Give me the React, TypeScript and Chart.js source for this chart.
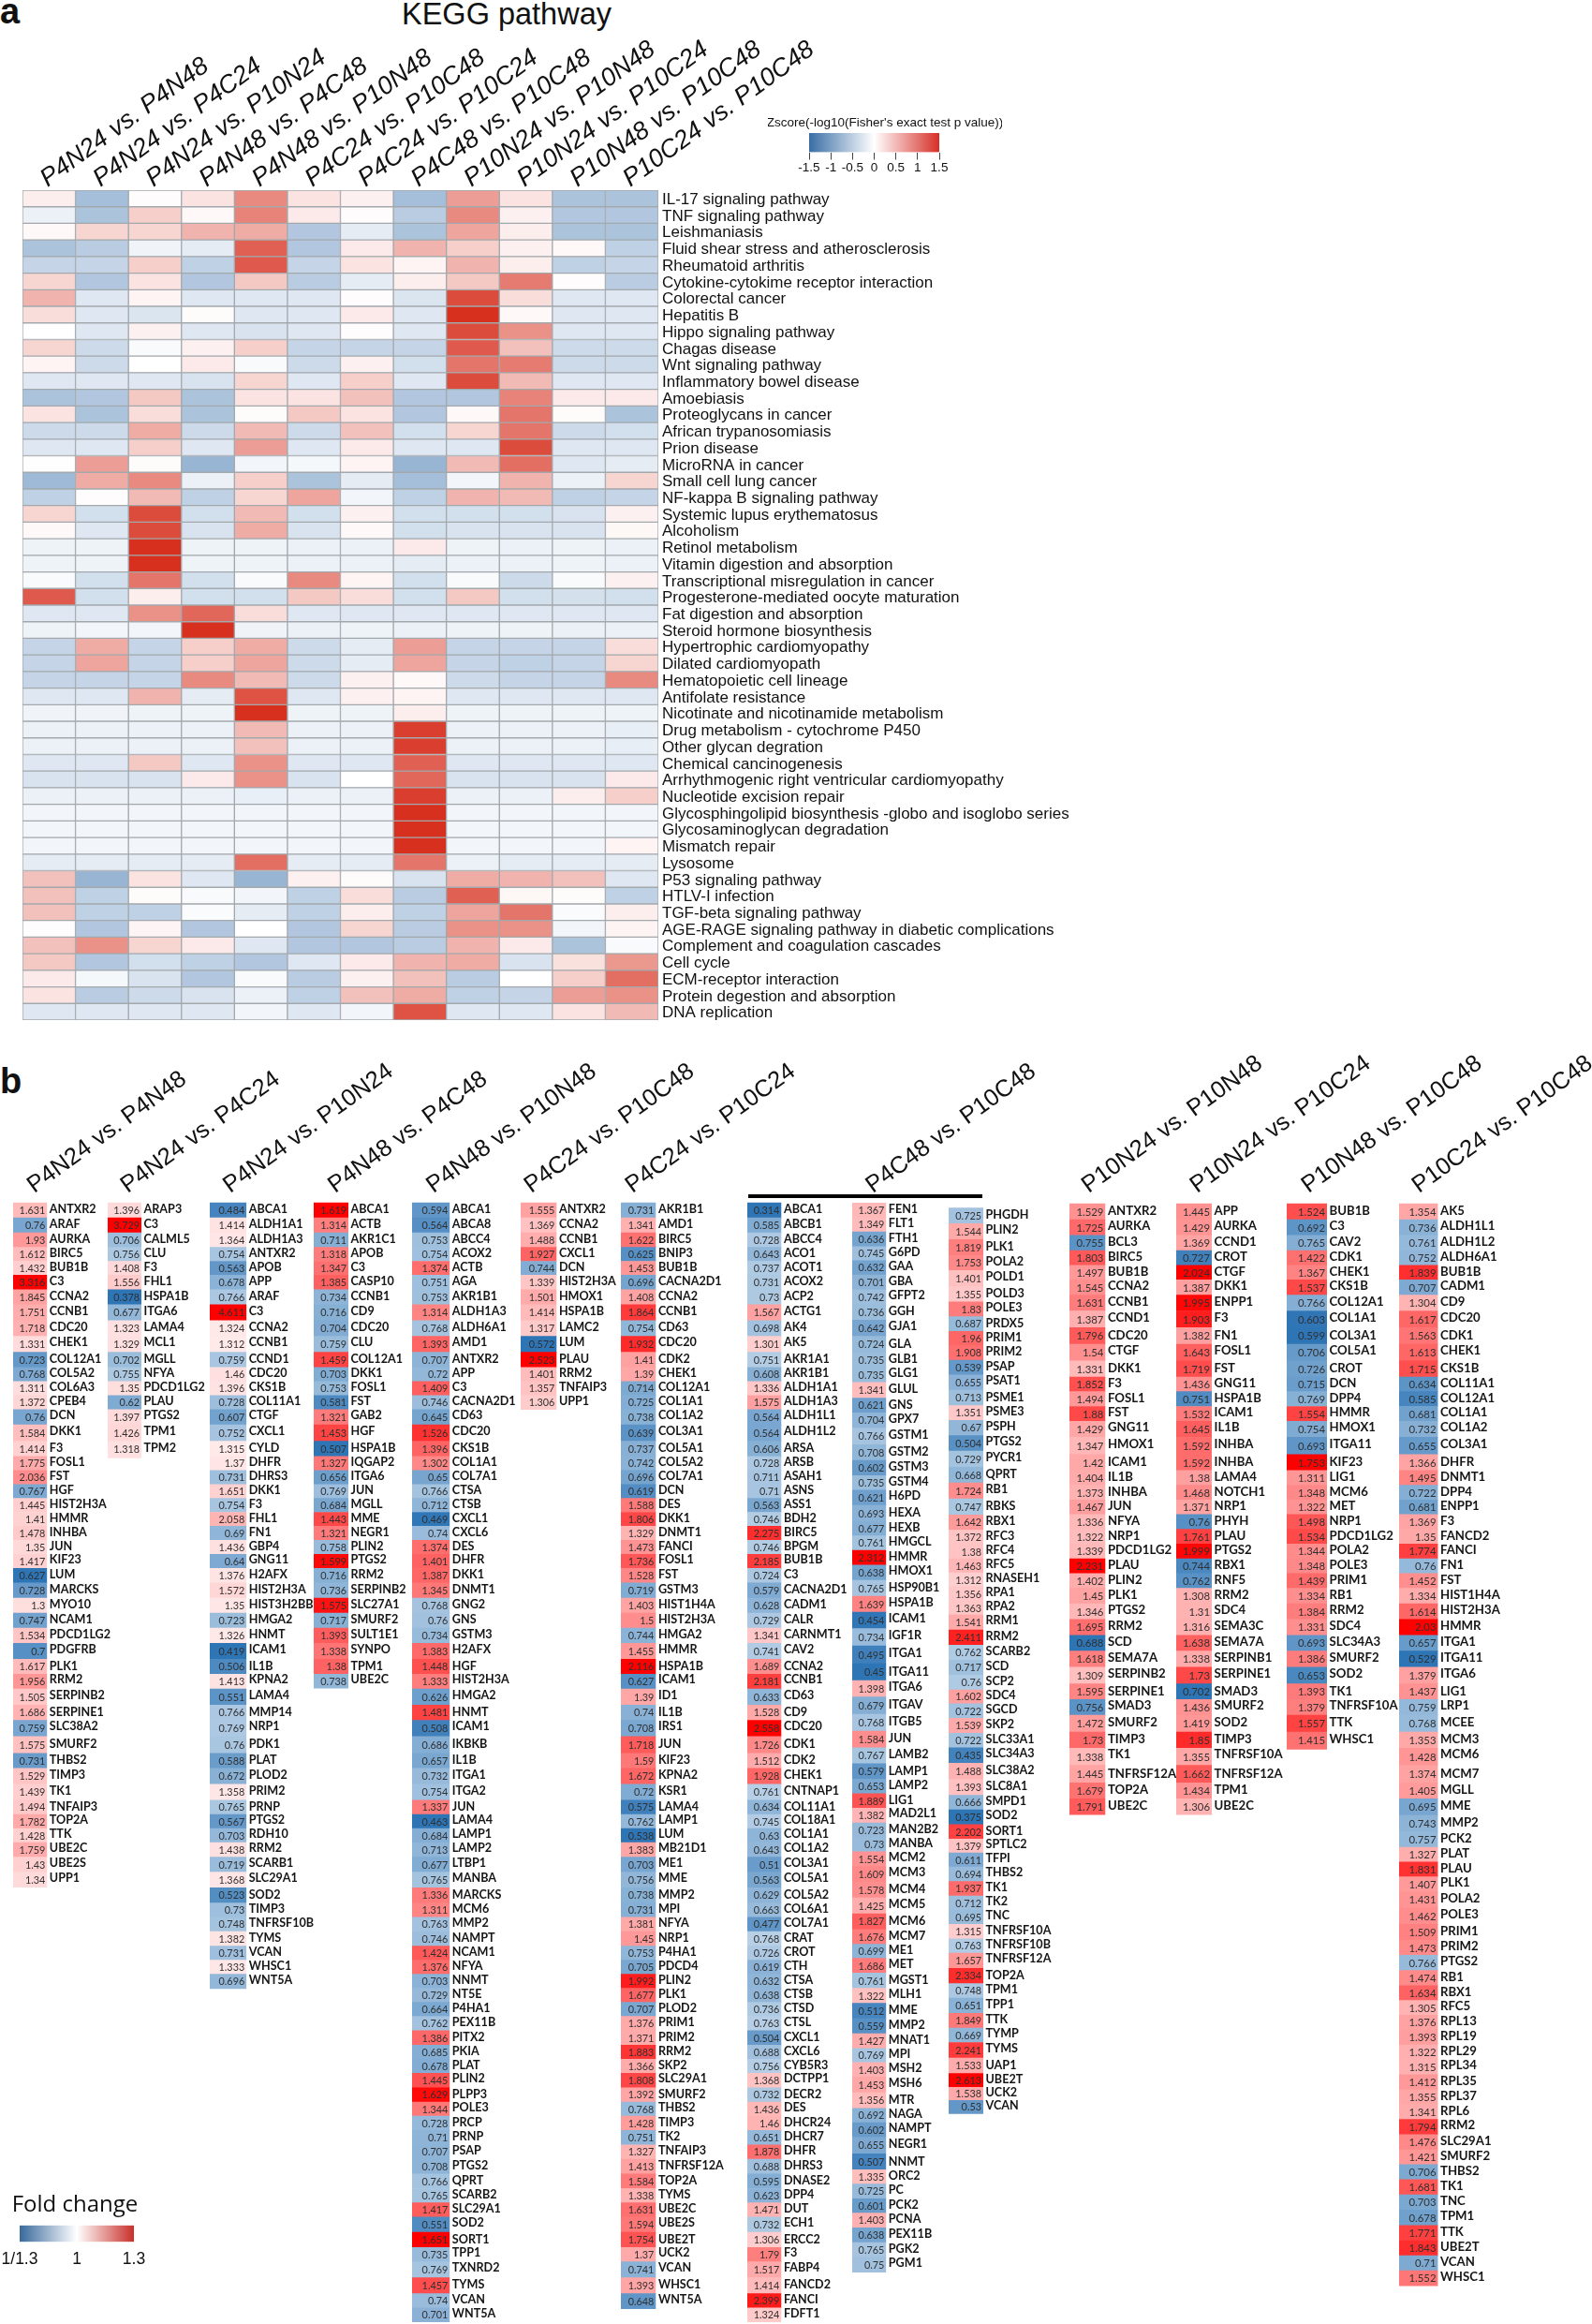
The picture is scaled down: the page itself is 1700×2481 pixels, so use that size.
import React, { useEffect, useRef } from "react";
import { Chart, registerables, CategoryScale } from "chart.js";

// ---------- Panel a: KEGG heatmap data ----------
const COMPARISONS_A = [
  "P4N24 vs. P4N48", "P4N24 vs. P4C24", "P4N24 vs. P10N24", "P4N48 vs. P4C48", "P4N48 vs. P10N48", "P4C24 vs. P10C48",
  "P4C24 vs. P10C24", "P4C48 vs. P10C48", "P10N24 vs. P10N48", "P10N24 vs. P10C24", "P10N48 vs. P10C48", "P10C24 vs. P10C48",
];
const PATHWAYS = [
  "IL-17 signaling pathway", "TNF signaling pathway", "Leishmaniasis", "Fluid shear stress and atherosclerosis", "Rheumatoid arthritis",
  "Cytokine-cytokime receptor interaction", "Colorectal cancer", "Hepatitis B", "Hippo signaling pathway", "Chagas disease",
  "Wnt signaling pathway", "Inflammatory bowel disease", "Amoebiasis", "Proteoglycans in cancer", "African trypanosomiasis",
  "Prion disease", "MicroRNA in cancer", "Small cell lung cancer", "NF-kappa B signaling pathway", "Systemic lupus erythematosus",
  "Alcoholism", "Retinol metabolism", "Vitamin digestion and absorption", "Transcriptional misregulation in cancer", "Progesterone-mediated oocyte maturation",
  "Fat digestion and absorption", "Steroid hormone biosynthesis", "Hypertrophic cardiomyopathy", "Dilated cardiomyopath", "Hematopoietic cell lineage",
  "Antifolate resistance", "Nicotinate and nicotinamide metabolism", "Drug metabolism - cytochrome P450", "Other glycan degration", "Chemical cancinogenesis",
  "Arrhythmogenic right ventricular cardiomyopathy", "Nucleotide excision repair", "Glycosphingolipid biosynthesis -globo and isoglobo series", "Glycosaminoglycan degradation", "Mismatch repair",
  "Lysosome", "P53 signaling pathway", "HTLV-I infection", "TGF-beta signaling pathway", "AGE-RAGE signaling pathway in diabetic complications",
  "Complement and coagulation cascades", "Cell cycle", "ECM-receptor interaction", "Protein degestion and absorption", "DNA replication",
];
const ZSCORES = [
  [0.12, -0.7, 0.02, 0.2, 0.85, 0.2, 0.1, -0.7, 0.7, 0.2, -0.65, -0.65],
  [-0.15, -0.65, 0.35, 0.05, 0.9, 0.15, 0.02, -0.55, 0.85, 0.1, -0.6, -0.6],
  [0.05, 0.3, 0.3, 0.55, 0.6, -0.6, -0.2, -0.65, 0.65, 0.12, -0.65, -0.65],
  [-0.65, -0.55, -0.12, -0.2, 1.15, -0.6, 0.15, 0.55, 0.35, 0.1, 0.05, -0.5],
  [-0.45, -0.45, 0.35, -0.5, 1.2, -0.45, 0.2, 0.08, 0.55, 0.12, -0.5, -0.45],
  [0.3, -0.6, 0.2, -0.6, 0.4, -0.55, -0.2, 0.12, 0.4, 0.95, 0.02, -0.55],
  [0.55, -0.25, 0.08, -0.25, -0.25, -0.25, 0.02, -0.28, 1.3, 0.25, -0.25, -0.25],
  [0.25, -0.25, -0.28, 0.03, -0.25, -0.25, 0.15, -0.25, 1.6, 0.05, -0.25, -0.25],
  [0.0, -0.25, 0.1, -0.25, -0.3, -0.25, 0.02, -0.25, 1.3, 0.8, -0.25, -0.25],
  [0.3, -0.4, -0.05, 0.1, 0.35, -0.45, -0.45, -0.45, 1.2, 0.45, -0.4, -0.4],
  [0.08, -0.4, 0.0, 0.15, -0.05, -0.4, 0.1, -0.35, 1.0, 0.95, -0.4, -0.4],
  [-0.25, -0.25, -0.25, -0.3, 0.3, -0.25, 0.35, -0.25, 1.3, 0.5, -0.25, -0.25],
  [-0.65, -0.6, 0.4, -0.65, 0.2, 0.2, 0.45, -0.6, -0.6, 0.9, 0.15, 0.15],
  [0.2, -0.65, 0.25, -0.65, 0.03, 0.4, 0.2, -0.6, 0.05, 1.0, 0.03, -0.65],
  [-0.4, -0.4, 0.6, -0.4, 0.5, -0.4, 0.45, -0.35, 0.3, 1.0, -0.4, -0.35],
  [-0.25, -0.25, 0.35, -0.25, 0.7, -0.25, 0.15, -0.25, -0.25, 1.3, -0.25, -0.25],
  [0.01, 0.7, 0.03, -0.8, -0.1, -0.08, 0.08, -0.8, 0.5, 1.05, -0.25, -0.2],
  [-0.75, 0.6, 0.85, -0.15, 0.35, -0.65, -0.2, -0.7, -0.1, 0.55, -0.15, 0.3],
  [-0.5, 0.02, 0.5, -0.5, 0.3, 0.65, -0.1, -0.5, 0.55, 0.5, -0.5, -0.45],
  [0.3, -0.35, 1.3, -0.35, 0.5, -0.35, 0.1, -0.35, -0.35, -0.35, -0.3, 0.1],
  [0.05, -0.25, 1.3, -0.3, 0.6, -0.3, 0.05, -0.35, -0.3, -0.3, -0.3, 0.06],
  [-0.13, -0.13, 1.6, -0.13, -0.13, -0.15, -0.15, 0.15, -0.13, -0.15, -0.13, -0.15],
  [-0.13, -0.13, 1.6, -0.13, -0.13, -0.15, -0.15, -0.2, -0.15, -0.15, -0.13, -0.15],
  [-0.05, -0.35, 1.0, -0.35, -0.05, 0.85, 0.08, -0.35, -0.05, -0.4, -0.05, 0.1],
  [1.2, -0.35, 0.12, -0.35, -0.35, 0.4, 0.25, -0.35, 0.4, -0.35, -0.33, -0.35],
  [-0.25, -0.25, 0.8, 1.1, 0.25, -0.25, -0.25, -0.25, -0.25, -0.25, -0.25, -0.25],
  [-0.13, -0.1, -0.1, 1.6, -0.12, -0.15, -0.13, -0.15, -0.13, -0.13, -0.15, -0.15],
  [-0.45, 0.6, -0.45, 0.35, 0.6, -0.4, -0.2, 0.7, -0.45, -0.45, -0.45, 0.25],
  [-0.45, 0.65, -0.45, 0.35, 0.65, -0.4, -0.2, 0.65, -0.45, -0.5, -0.45, 0.3],
  [-0.45, -0.45, -0.45, 0.85, 0.5, -0.4, 0.1, 0.05, -0.4, -0.45, -0.45, 0.85],
  [-0.25, -0.25, 0.55, -0.2, 1.25, -0.25, 0.1, 0.08, -0.25, -0.25, -0.25, -0.25],
  [-0.12, -0.12, -0.13, -0.13, 1.6, -0.13, -0.13, 0.12, -0.13, -0.13, -0.13, -0.13],
  [-0.15, -0.15, -0.15, -0.15, 0.5, -0.15, -0.15, 1.4, -0.15, -0.15, -0.15, -0.18],
  [-0.15, -0.15, -0.15, -0.15, 0.45, -0.15, -0.15, 1.4, -0.15, -0.15, -0.15, -0.18],
  [-0.25, -0.25, 0.4, -0.25, 0.8, -0.25, -0.25, 1.15, -0.25, -0.25, -0.25, -0.25],
  [-0.3, -0.3, -0.3, 0.15, 0.8, -0.3, 0.0, 1.1, -0.3, -0.3, -0.3, 0.15],
  [-0.15, -0.15, -0.15, -0.15, -0.17, -0.15, -0.15, 1.4, -0.15, -0.15, 0.12, 0.35],
  [-0.1, -0.1, -0.1, -0.1, -0.1, -0.1, -0.1, 1.6, -0.1, -0.1, -0.1, -0.1],
  [-0.1, -0.1, -0.1, -0.1, -0.1, -0.1, -0.1, 1.6, -0.1, -0.1, -0.1, -0.1],
  [-0.1, -0.1, -0.1, -0.1, -0.1, -0.1, -0.1, 1.6, -0.1, -0.1, -0.1, 0.08],
  [-0.2, -0.2, -0.2, -0.2, 1.05, -0.2, -0.2, 1.0, -0.15, -0.2, -0.2, -0.2],
  [0.45, -0.8, 0.2, -0.25, -0.8, 0.1, 0.03, -0.3, 0.6, 0.55, 0.45, -0.25],
  [0.45, -0.5, 0.03, -0.05, -0.1, -0.5, 0.25, -0.55, 1.15, 0.06, 0.03, -0.5],
  [0.45, -0.5, -0.5, -0.04, -0.2, -0.5, 0.12, -0.5, 0.65, 1.0, -0.04, 0.12],
  [0.02, -0.6, 0.07, -0.6, 0.0, -0.6, 0.3, -0.55, 0.8, 0.8, -0.1, 0.08],
  [0.45, 0.8, 0.3, 0.15, -0.25, -0.6, -0.6, -0.55, 0.55, 0.15, -0.65, -0.05],
  [0.4, -0.6, -0.35, -0.5, -0.6, -0.25, 0.15, 0.55, 0.6, -0.3, 0.22, 0.75],
  [0.15, -0.08, -0.3, -0.6, -0.05, -0.55, 0.1, 0.45, -0.55, 0.0, 0.35, 1.05],
  [0.2, -0.55, -0.4, -0.3, -0.15, -0.5, 0.45, 0.6, -0.5, -0.45, 0.7, 0.8],
  [-0.25, -0.25, -0.25, -0.25, -0.1, -0.25, -0.1, 1.25, -0.25, -0.25, 0.2, 0.5],
];

// ---------- Panel b: fold-change gene lists ----------
const G1 = "ANTXR2 ARAF AURKA BIRC5 BUB1B C3 CCNA2 CCNB1 CDC20 CHEK1 COL12A1 COL5A2 COL6A3 CPEB4 DCN DKK1 F3 FOSL1 FST HGF HIST2H3A HMMR INHBA JUN KIF23 LUM MARCKS MYO10 NCAM1 PDCD1LG2 PDGFRB PLK1 RRM2 SERPINB2 SERPINE1 SLC38A2 SMURF2 THBS2 TIMP3 TK1 TNFAIP3 TOP2A TTK UBE2C UBE2S UPP1".split(" ");
const V1 = [1.631, 0.76, 1.93, 1.612, 1.432, 3.316, 1.845, 1.751, 1.718, 1.331, 0.723, 0.768, 1.311, 1.372, 0.76, 1.584, 1.414, 1.775, 2.036, 0.767, 1.445, 1.41, 1.478, 1.35, 1.417, 0.627, 0.728, 1.3, 0.747, 1.534, 0.7, 1.617, 1.956, 1.505, 1.686, 0.759, 1.575, 0.731, 1.529, 1.439, 1.494, 1.782, 1.428, 1.759, 1.43, 1.34];
const G2 = "ARAP3 C3 CALML5 CLU F3 FHL1 HSPA1B ITGA6 LAMA4 MCL1 MGLL NFYA PDCD1LG2 PLAU PTGS2 TPM1 TPM2".split(" ");
const V2 = [1.396, 3.729, 0.706, 0.756, 1.408, 1.556, 0.378, 0.677, 1.323, 1.329, 0.702, 0.755, 1.35, 0.62, 1.397, 1.426, 1.318];
const G3 = "ABCA1 ALDH1A1 ALDH1A3 ANTXR2 APOB APP ARAF C3 CCNA2 CCNB1 CCND1 CDC20 CKS1B COL11A1 CTGF CXCL1 CYLD DHFR DHRS3 DKK1 F3 FHL1 FN1 GBP4 GNG11 H2AFX HIST2H3A HIST3H2BB HMGA2 HNMT ICAM1 IL1B KPNA2 LAMA4 MMP14 NRP1 PDK1 PLAT PLOD2 PRIM2 PRNP PTGS2 RDH10 RRM2 SCARB1 SLC29A1 SOD2 TIMP3 TNFRSF10B TYMS VCAN WHSC1 WNT5A".split(" ");
const V3 = [0.484, 1.414, 1.364, 0.754, 0.563, 0.678, 0.766, 4.611, 1.324, 1.312, 0.759, 1.46, 1.396, 0.728, 0.607, 0.752, 1.315, 1.37, 0.731, 1.651, 0.754, 2.058, 0.69, 1.436, 0.64, 1.376, 1.572, 1.35, 0.723, 1.326, 0.419, 0.506, 1.413, 0.551, 0.766, 0.769, 0.76, 0.588, 0.672, 1.358, 0.765, 0.567, 0.703, 1.438, 0.719, 1.368, 0.523, 0.73, 0.748, 1.382, 0.731, 1.333, 0.696];
const G4 = "ABCA1 ACTB AKR1C1 APOB C3 CASP10 CCNB1 CD9 CDC20 CLU COL12A1 DKK1 FOSL1 FST GAB2 HGF HSPA1B IQGAP2 ITGA6 JUN MGLL MME NEGR1 PLIN2 PTGS2 RRM2 SERPINB2 SLC27A1 SMURF2 SULT1E1 SYNPO TPM1 UBE2C".split(" ");
const V4 = [1.619, 1.314, 0.711, 1.318, 1.347, 1.385, 0.734, 0.716, 0.704, 0.759, 1.459, 0.703, 0.753, 0.581, 1.321, 1.453, 0.507, 1.327, 0.656, 0.769, 0.684, 1.443, 1.321, 0.758, 1.599, 0.716, 0.736, 1.575, 0.717, 1.393, 1.338, 1.38, 0.738];
const G5 = "ABCA1 ABCA8 ABCC4 ACOX2 ACTB AGA AKR1B1 ALDH1A3 ALDH6A1 AMD1 ANTXR2 APP C3 CACNA2D1 CD63 CDC20 CKS1B COL1A1 COL7A1 CTSA CTSB CXCL1 CXCL6 DES DHFR DKK1 DNMT1 GNG2 GNS GSTM3 H2AFX HGF HIST2H3A HMGA2 HNMT ICAM1 IKBKB IL1B ITGA1 ITGA2 JUN LAMA4 LAMP1 LAMP2 LTBP1 MANBA MARCKS MCM6 MMP2 NAMPT NCAM1 NFYA NNMT NT5E P4HA1 PEX11B PITX2 PKIA PLAT PLIN2 PLPP3 POLE3 PRCP PRNP PSAP PTGS2 QPRT SCARB2 SLC29A1 SOD2 SORT1 TPP1 TXNRD2 TYMS VCAN WNT5A".split(" ");
const V5 = [0.594, 0.564, 0.753, 0.754, 1.374, 0.751, 0.753, 1.314, 0.768, 1.393, 0.707, 0.72, 1.409, 0.746, 0.645, 1.526, 1.396, 1.302, 0.65, 0.766, 0.712, 0.469, 0.74, 1.374, 1.401, 1.387, 1.345, 0.768, 0.76, 0.734, 1.383, 1.448, 1.333, 0.626, 1.481, 0.508, 0.686, 0.657, 0.732, 0.754, 1.337, 0.463, 0.684, 0.713, 0.677, 0.765, 1.336, 1.311, 0.763, 0.746, 1.424, 1.376, 0.703, 0.729, 0.664, 0.762, 1.386, 0.685, 0.678, 1.445, 1.629, 1.344, 0.728, 0.71, 0.707, 0.708, 0.766, 0.765, 1.417, 0.551, 1.651, 0.735, 0.769, 1.457, 0.74, 0.701];
const G6 = "ANTXR2 CCNA2 CCNB1 CXCL1 DCN HIST2H3A HMOX1 HSPA1B LAMC2 LUM PLAU RRM2 TNFAIP3 UPP1".split(" ");
const V6 = [1.555, 1.369, 1.488, 1.927, 0.744, 1.339, 1.501, 1.414, 1.317, 0.572, 2.523, 1.401, 1.357, 1.306];
const G7 = "AKR1B1 AMD1 BIRC5 BNIP3 BUB1B CACNA2D1 CCNA2 CCNB1 CD63 CDC20 CDK2 CHEK1 COL12A1 COL1A1 COL1A2 COL3A1 COL5A1 COL5A2 COL7A1 DCN DES DKK1 DNMT1 FANCI FOSL1 FST GSTM3 HIST1H4A HIST2H3A HMGA2 HMMR HSPA1B ICAM1 ID1 IL1B IRS1 JUN KIF23 KPNA2 KSR1 LAMA4 LAMP1 LUM MB21D1 ME1 MME MMP2 MPI NFYA NRP1 P4HA1 PDCD4 PLIN2 PLK1 PLOD2 PRIM1 PRIM2 RRM2 SKP2 SLC29A1 SMURF2 THBS2 TIMP3 TK2 TNFAIP3 TNFRSF12A TOP2A TYMS UBE2C UBE2S UBE2T UCK2 VCAN WHSC1 WNT5A".split(" ");
const V7 = [0.731, 1.341, 1.622, 0.625, 1.453, 0.696, 1.408, 1.864, 0.754, 1.932, 1.41, 1.39, 0.714, 0.725, 0.738, 0.639, 0.737, 0.742, 0.696, 0.619, 1.588, 1.806, 1.329, 1.473, 1.736, 1.528, 0.719, 1.403, 1.5, 0.744, 1.455, 2.116, 0.627, 1.39, 0.74, 0.708, 1.718, 1.59, 1.672, 0.72, 0.575, 0.762, 0.538, 1.383, 0.703, 0.756, 0.738, 0.731, 1.381, 1.45, 0.753, 0.705, 1.992, 1.677, 0.707, 1.376, 1.371, 1.883, 1.366, 1.808, 1.392, 0.768, 1.428, 0.751, 1.327, 1.413, 1.584, 1.338, 1.631, 1.594, 1.754, 1.37, 0.741, 1.393, 0.648];
const G8A = "ABCA1 ABCB1 ABCC4 ACO1 ACOT1 ACOX2 ACP2 ACTG1 AK4 AK5 AKR1A1 AKR1B1 ALDH1A1 ALDH1A3 ALDH1L1 ALDH1L2 ARSA ARSB ASAH1 ASNS ASS1 BDH2 BIRC5 BPGM BUB1B C3 CACNA2D1 CADM1 CALR CARNMT1 CAV2 CCNA2 CCNB1 CD63 CD9 CDC20 CDK1 CDK2 CHEK1 CNTNAP1 COL11A1 COL18A1 COL1A1 COL1A2 COL3A1 COL5A1 COL5A2 COL6A1 COL7A1 CRAT CROT CTH CTSA CTSB CTSD CTSL CXCL1 CXCL6 CYB5R3 DCTPP1 DECR2 DES DHCR24 DHCR7 DHFR DHRS3 DNASE2 DPP4 DUT ECH1 ERCC2 F3 FABP4 FANCD2 FANCI FDFT1".split(" ");
const V8A = [0.314, 0.585, 0.728, 0.643, 0.737, 0.731, 0.73, 1.567, 0.698, 1.301, 0.751, 0.608, 1.336, 1.575, 0.564, 0.564, 0.606, 0.728, 0.711, 0.71, 0.563, 0.746, 2.275, 0.746, 2.185, 0.724, 0.579, 0.628, 0.729, 1.341, 0.741, 1.689, 2.181, 0.633, 1.528, 2.558, 1.726, 1.512, 1.928, 0.761, 0.634, 0.745, 0.63, 0.643, 0.51, 0.563, 0.629, 0.663, 0.477, 0.768, 0.726, 0.619, 0.632, 0.638, 0.736, 0.763, 0.504, 0.688, 0.756, 1.368, 0.732, 1.436, 1.46, 0.651, 1.878, 0.688, 0.595, 0.623, 1.471, 0.732, 1.306, 1.79, 1.517, 1.414, 2.399, 1.324];
const G8B = "FEN1 FLT1 FTH1 G6PD GAA GBA GFPT2 GGH GJA1 GLA GLB1 GLG1 GLUL GNS GPX7 GSTM1 GSTM2 GSTM3 GSTM4 H6PD HEXA HEXB HMGCL HMMR HMOX1 HSP90B1 HSPA1B ICAM1 IGF1R ITGA1 ITGA11 ITGA6 ITGAV ITGB5 JUN LAMB2 LAMP1 LAMP2 LIG1 MAD2L1 MAN2B2 MANBA MCM2 MCM3 MCM4 MCM5 MCM6 MCM7 ME1 MET MGST1 MLH1 MME MMP2 MNAT1 MPI MSH2 MSH6 MTR NAGA NAMPT NEGR1 NNMT ORC2 PC PCK2 PCNA PEX11B PGK2 PGM1".split(" ");
const V8B = [1.367, 1.349, 0.636, 0.745, 0.632, 0.701, 0.742, 0.736, 0.642, 0.724, 0.735, 0.735, 1.341, 0.621, 0.704, 0.766, 0.708, 0.602, 0.735, 0.621, 0.693, 0.677, 0.761, 2.312, 0.638, 0.765, 1.639, 0.454, 0.734, 0.495, 0.45, 1.398, 0.679, 0.768, 1.584, 0.767, 0.579, 0.653, 1.889, 1.382, 0.723, 0.73, 1.554, 1.609, 1.578, 1.425, 1.827, 1.676, 0.699, 1.686, 0.761, 1.322, 0.512, 0.559, 1.427, 0.769, 1.403, 1.453, 1.356, 0.692, 0.602, 0.655, 0.507, 1.335, 0.725, 0.601, 1.403, 0.638, 0.765, 0.75];
const G8C = "PHGDH PLIN2 PLK1 POLA2 POLD1 POLD3 POLE3 PRDX5 PRIM1 PRIM2 PSAP PSAT1 PSME1 PSME3 PSPH PTGS2 PYCR1 QPRT RB1 RBKS RBX1 RFC3 RFC4 RFC5 RNASEH1 RPA1 RPA2 RRM1 RRM2 SCARB2 SCD SCP2 SDC4 SGCD SKP2 SLC33A1 SLC34A3 SLC38A2 SLC8A1 SMPD1 SOD2 SORT1 SPTLC2 TFPI THBS2 TK1 TK2 TNC TNFRSF10A TNFRSF10B TNFRSF12A TOP2A TPM1 TPP1 TTK TYMP TYMS UAP1 UBE2T UCK2 VCAN".split(" ");
const V8C = [0.725, 1.544, 1.819, 1.753, 1.401, 1.355, 1.83, 0.687, 1.96, 1.908, 0.539, 0.655, 0.713, 1.351, 0.67, 0.504, 0.729, 0.668, 1.724, 0.747, 1.642, 1.372, 1.38, 1.463, 1.312, 1.356, 1.363, 1.541, 2.411, 0.762, 0.717, 0.76, 1.602, 0.722, 1.539, 0.722, 0.435, 1.488, 1.393, 0.666, 0.375, 2.202, 1.379, 0.611, 0.694, 1.937, 0.712, 0.695, 1.315, 0.763, 1.657, 2.334, 0.748, 0.651, 1.849, 0.669, 2.241, 1.533, 2.613, 1.538, 0.53];
const G9 = "ANTXR2 AURKA BCL3 BIRC5 BUB1B CCNA2 CCNB1 CCND1 CDC20 CTGF DKK1 F3 FOSL1 FST GNG11 HMOX1 ICAM1 IL1B INHBA JUN NFYA NRP1 PDCD1LG2 PLAU PLIN2 PLK1 PTGS2 RRM2 SCD SEMA7A SERPINB2 SERPINE1 SMAD3 SMURF2 TIMP3 TK1 TNFRSF12A TOP2A UBE2C".split(" ");
const V9 = [1.529, 1.725, 0.755, 1.803, 1.497, 1.545, 1.631, 1.387, 1.796, 1.54, 1.331, 1.852, 1.494, 1.88, 1.429, 1.347, 1.42, 1.404, 1.373, 1.467, 1.336, 1.322, 1.339, 2.231, 1.402, 1.45, 1.346, 1.695, 0.688, 1.618, 1.309, 1.595, 0.756, 1.472, 1.73, 1.338, 1.445, 1.679, 1.791];
const G10 = "APP AURKA CCND1 CROT CTGF DKK1 ENPP1 F3 FN1 FOSL1 FST GNG11 HSPA1B ICAM1 IL1B INHBA INHBA LAMA4 NOTCH1 NRP1 PHYH PLAU PTGS2 RBX1 RNF5 RRM2 SDC4 SEMA3C SEMA7A SERPINB1 SERPINE1 SMAD3 SMURF2 SOD2 TIMP3 TNFRSF10A TNFRSF12A TPM1 UBE2C".split(" ");
const V10 = [1.445, 1.429, 1.369, 0.727, 2.024, 1.387, 1.995, 1.903, 1.382, 1.643, 1.719, 1.436, 0.751, 1.532, 1.645, 1.592, 1.592, 1.38, 1.468, 1.371, 0.76, 1.761, 1.999, 0.744, 0.762, 1.308, 1.31, 1.316, 1.638, 1.338, 1.73, 0.702, 1.436, 1.419, 1.85, 1.355, 1.662, 1.434, 1.306];
const G11 = "BUB1B C3 CAV2 CDK1 CHEK1 CKS1B COL12A1 COL1A1 COL3A1 COL5A1 CROT DCN DPP4 HMMR HMOX1 ITGA11 KIF23 LIG1 MCM6 MET NRP1 PDCD1LG2 POLA2 POLE3 PRIM1 RB1 RRM2 SDC4 SLC34A3 SMURF2 SOD2 TK1 TNFRSF10A TTK WHSC1".split(" ");
const V11 = [1.524, 0.692, 0.765, 1.422, 1.367, 1.537, 0.766, 0.603, 0.599, 0.706, 0.726, 0.715, 0.769, 1.554, 0.754, 0.693, 1.753, 1.311, 1.348, 1.322, 1.498, 1.534, 1.344, 1.348, 1.439, 1.334, 1.384, 1.331, 0.693, 1.386, 0.653, 1.393, 1.379, 1.557, 1.415];
const G12 = "AK5 ALDH1L1 ALDH1L2 ALDH6A1 BUB1B CADM1 CD9 CDC20 CDK1 CHEK1 CKS1B COL11A1 COL12A1 COL1A1 COL1A2 COL3A1 DHFR DNMT1 DPP4 ENPP1 F3 FANCD2 FANCI FN1 FST HIST1H4A HIST2H3A HMMR ITGA1 ITGA11 ITGA6 LIG1 LRP1 MCEE MCM3 MCM6 MCM7 MGLL MME MMP2 PCK2 PLAT PLAU PLK1 POLA2 POLE3 PRIM1 PRIM2 PTGS2 RB1 RBX1 RFC5 RPL13 RPL19 RPL29 RPL34 RPL35 RPL37 RPL6 RRM2 SLC29A1 SMURF2 THBS2 TK1 TNC TPM1 TTK UBE2T VCAN WHSC1".split(" ");
const V12 = [1.354, 0.736, 0.761, 0.752, 1.839, 0.707, 1.304, 1.617, 1.563, 1.613, 1.715, 0.634, 0.585, 0.681, 0.732, 0.655, 1.366, 1.495, 0.722, 0.681, 1.369, 1.35, 1.774, 0.76, 1.452, 1.334, 1.614, 2.03, 0.657, 0.529, 1.379, 1.437, 0.759, 0.768, 1.353, 1.428, 1.374, 1.405, 0.695, 0.743, 0.757, 1.327, 1.831, 1.407, 1.431, 1.462, 1.509, 1.473, 0.766, 1.474, 1.634, 1.305, 1.376, 1.393, 1.322, 1.315, 1.412, 1.355, 1.341, 1.794, 1.476, 1.421, 0.706, 1.681, 0.703, 0.678, 1.771, 1.843, 0.71, 1.552];

const Z_LEGEND_TITLE = "Zscore(-log10(Fisher's exact test p value))";
const FOLD_LEGEND_TITLE = "Fold change";
const FOLD_LEGEND_LABELS = ["1/1.3", "1", "1.3"];

// ---------- Layout constants (spreadsheet row heights, panel geometry) ----------
const ROW_H_MAIN = [16, 16, 14.7, 15.2, 14.7, 16.1, 16, 17.8, 16, 17.8, 14.7, 15.2, 14.8, 15.2, 17.3, 17.8, 14.7, 15.2, 14.8, 14.7, 15.2, 14.7, 15.2, 14.7, 15.2, 16.1, 16, 16, 16.1, 16.5, 17.3, 14.8, 16.9, 17.4, 15.2, 19.5, 16.1, 16.1, 17.8, 16.1, 14.7, 15.2, 14.8, 16.1, 16, 17.4, 15.2, 15.2, 15.6, 15.2, 14.8, 15.2, 14.8, 15.2, 14.7, 16.1, 14.8, 15.2, 14.7, 16.1, 14.8, 15.2, 15.2, 15.6, 15.2, 16.1, 15.2, 15.2, 15.2, 17.4, 14.7, 16.1, 17.8, 16.1, 14.7];
const ROW_H_8B = [15.1, 16.2, 15, 15, 15.8, 15.5, 17, 15.7, 18.7, 16.2, 15, 17.4, 16.2, 15, 17.8, 17.4, 16.2, 16.2, 15.1, 17.4, 16.2, 15, 16.2, 15, 17.8, 16.2, 17.4, 17.8, 19, 19.4, 16.2, 19, 17.8, 18.6, 16.5, 17.8, 15, 16.3, 14.6, 16.6, 14.7, 15.5, 16.2, 17.4, 16.2, 17.5, 16.2, 15.1, 15, 16.7, 15.8, 16.2, 16.3, 16.2, 15, 15.1, 15.9, 17.8, 15.4, 15.1, 16.2, 19, 15.1, 15.4, 15.9, 15, 16.2, 15.5, 15.8];
const ROW_H_8C = [16.6, 17.4, 16.2, 16.2, 17.8, 15.4, 16.2, 15, 15.5, 15.8, 15.4, 17.4, 15.4, 16.2, 16.2, 17, 17.4, 16.2, 17.8, 16.3, 16.2, 15, 15, 15.1, 15, 15, 15, 17, 15.5, 16.1, 16.3, 15, 14.6, 16.2, 15.9, 15.3, 17.4, 17.4, 16.3, 15, 16.3, 14.6, 15.1, 15, 15.8, 15.1, 15, 15.5, 15.4, 15.1, 17.4, 15.1, 16.2, 16.2, 15.1, 15.8, 17.5, 15.4, 13.9, 14.2];
const LATE_ROW_SCALE = 1.052;
const COL_CANVAS_TOP = 1110;
const COL_CHART_TOP = 1283;
const COL_CANVAS_W = 370;
const COL_LEFT_PAD = 30;
const LABEL_RAISE = 1.3;
const MAIN_FIRST = 1290.9, LATE_FIRST = 1292.3;

type Col = { title: string; genes: string[]; values: number[]; left: number; width: number; titleX?: number; first: number; heights: number[]; scale: number; font: number };
const COLUMNS: Col[] = [
  { title: COMPARISONS_A[0], genes: G1, values: V1, left: 13.7, width: 36.3, titleX: 50, first: MAIN_FIRST, heights: ROW_H_MAIN, scale: 1, font: 12.6 },
  { title: COMPARISONS_A[1], genes: G2, values: V2, left: 115, width: 36, titleX: 150, first: MAIN_FIRST, heights: ROW_H_MAIN, scale: 1, font: 12.6 },
  { title: COMPARISONS_A[2], genes: G3, values: V3, left: 223.5, width: 39.2, titleX: 259, first: MAIN_FIRST, heights: ROW_H_MAIN, scale: 1, font: 12.6 },
  { title: COMPARISONS_A[3], genes: G4, values: V4, left: 334.5, width: 37, titleX: 371, first: MAIN_FIRST, heights: ROW_H_MAIN, scale: 1, font: 12.6 },
  { title: COMPARISONS_A[4], genes: G5, values: V5, left: 439.5, width: 40.3, titleX: 476, first: MAIN_FIRST, heights: ROW_H_MAIN, scale: 1, font: 12.6 },
  { title: COMPARISONS_A[5], genes: G6, values: V6, left: 556, width: 38.4, titleX: 581, first: MAIN_FIRST, heights: ROW_H_MAIN, scale: 1, font: 12.6 },
  { title: COMPARISONS_A[6], genes: G7, values: V7, left: 663, width: 37.4, titleX: 689, first: MAIN_FIRST, heights: ROW_H_MAIN, scale: 1, font: 12.6 },
  { title: "", genes: G8A, values: V8A, left: 798, width: 36.4, first: MAIN_FIRST, heights: ROW_H_MAIN, scale: 1, font: 12.6 },
  { title: COMPARISONS_A[7], genes: G8B, values: V8B, left: 910.2, width: 36.3, titleX: 946, first: 1290.7, heights: ROW_H_8B, scale: 1, font: 12.6 },
  { title: "", genes: G8C, values: V8C, left: 1013, width: 37, first: 1296.7, heights: ROW_H_8C, scale: 1, font: 12.6 },
  { title: COMPARISONS_A[8], genes: G9, values: V9, left: 1141.6, width: 38.4, titleX: 1176, first: LATE_FIRST, heights: ROW_H_MAIN, scale: LATE_ROW_SCALE, font: 13.2 },
  { title: COMPARISONS_A[9], genes: G10, values: V10, left: 1256, width: 38, titleX: 1292, first: LATE_FIRST, heights: ROW_H_MAIN, scale: LATE_ROW_SCALE, font: 13.2 },
  { title: COMPARISONS_A[10], genes: G11, values: V11, left: 1374, width: 43, titleX: 1411, first: LATE_FIRST, heights: ROW_H_MAIN, scale: LATE_ROW_SCALE, font: 13.2 },
  { title: COMPARISONS_A[11], genes: G12, values: V12, left: 1494, width: 41.5, titleX: 1529, first: LATE_FIRST, heights: ROW_H_MAIN, scale: LATE_ROW_SCALE, font: 13.2 },
];

function rowCentres(c: Col): number[] {
  const out = [c.first + LABEL_RAISE - COL_CANVAS_TOP];
  for (let i = 1; i < c.genes.length; i++) out.push(out[i - 1] + (c.heights[i - 1] ?? 15.5) * c.scale);
  return out;
}

// A category scale whose rows have spreadsheet-style unequal heights.
class RowScale extends CategoryScale {
  static id = "rowScale";
  static defaults = CategoryScale.defaults;
  getPixelForValue(value: any) {
    const self: any = this;
    if (!self._centres) self._centres = rowCentres(COLUMNS[self.options.columnIndex]);
    const v = typeof value === "number" ? value : self.parse(value);
    return self._centres[v] ?? 0;
  }
  getPixelForTick(index: number) {
    const self: any = this;
    return self.getPixelForValue(self.ticks[index].value) - LABEL_RAISE;
  }
}

Chart.register(...registerables, RowScale as any);

const mix = (a: number[], t: number) => {
  const k = Math.max(0, Math.min(1, t));
  return `rgb(${a.map((x) => Math.round(255 + (x - 255) * k)).join(",")})`;
};
const zColor = (z: number) => (z >= 0 ? mix([215, 48, 31], z / 1.5) : mix([63, 116, 174], -z / 1.5));
function foldColor(v: number, values: number[]) {
  if (v >= 1) return mix([255, 0, 0], (v - 1) / (Math.max(...values) - 1));
  return mix([46, 117, 182], (1 - v) / (1 - Math.min(...values)));
}

const cellValuePlugin = {
  id: "cellValues",
  afterDatasetsDraw(chart: any) {
    const ds = chart.data.datasets[0];
    const meta = chart.getDatasetMeta(0);
    const ctx = chart.ctx;
    ctx.save();
    ctx.font = `${ds.valueFont}px Lato, sans-serif`;
    ctx.fillStyle = "#303030";
    ctx.textAlign = "right";
    ctx.textBaseline = "middle";
    meta.data.forEach((el: any, i: number) => ctx.fillText(String(ds.cellValues[i]), el.x - 2, el.y + 0.5));
    ctx.restore();
  },
};

// Legend headings are wider than their colour bars, so they are drawn centred on the whole canvas.
const legendHeadingPlugin = {
  id: "legendHeading",
  afterDraw(chart: any, _args: any, opts: any) {
    const ctx = chart.ctx;
    ctx.save();
    ctx.font = opts.font;
    ctx.fillStyle = "#111";
    ctx.textAlign = "center";
    ctx.textBaseline = "middle";
    ctx.fillText(opts.text, chart.width / 2, opts.y);
    ctx.restore();
  },
};

function columnConfig(c: Col, index: number): any {
  return {
    type: "bar",
    plugins: [cellValuePlugin],
    data: {
      labels: c.genes,
      datasets: [
        {
          data: c.values.map(() => [0, 1]),
          cellValues: c.values,
          valueFont: c.font * 0.86,
          backgroundColor: c.values.map((v) => foldColor(v, c.values)),
          barThickness: "flex",
          categoryPercentage: 1,
          barPercentage: 1,
        },
      ],
    },
    options: {
      indexAxis: "y",
      responsive: false,
      animation: false,
      layout: { padding: { left: COL_LEFT_PAD, top: 0, right: 0, bottom: 0 } },
      plugins: { legend: { display: false }, tooltip: { enabled: false }, title: { display: false } },
      scales: {
        x: {
          type: "linear",
          position: "top",
          min: 0,
          max: 1,
          grid: { display: false },
          border: { display: false },
          afterBuildTicks: (s: any) => {
            s.ticks = c.titleX !== undefined ? [{ value: (c.titleX - c.left) / c.width }] : [];
          },
          afterFit: (s: any) => {
            s.height = COL_CHART_TOP - COL_CANVAS_TOP;
            s.paddingLeft = 0;
            s.paddingRight = 0;
          },
          ticks: {
            autoSkip: false,
            minRotation: 36,
            maxRotation: 36,
            padding: -6,
            color: "#111",
            font: { family: "'Liberation Sans', Arial, sans-serif", size: 25.5 },
            callback: () => c.title,
          },
        },
        y: {
          type: "rowScale",
          columnIndex: index,
          position: "right",
          grid: { display: false, drawTicks: false },
          border: { display: false },
          afterFit: (s: any) => {
            s.width = COL_CANVAS_W - COL_LEFT_PAD - c.width;
            s.paddingTop = 0;
            s.paddingBottom = 0;
          },
          ticks: {
            autoSkip: false,
            padding: 2.5,
            color: "#151515",
            font: { family: "Lato, sans-serif", size: c.font, weight: "bold" },
          },
        },
      },
    },
  };
}

const heatmapConfig: any = {
  type: "bar",
  data: {
    labels: PATHWAYS,
    datasets: COMPARISONS_A.map((name, j) => ({
      label: name,
      data: PATHWAYS.map(() => 1),
      backgroundColor: ZSCORES.map((row) => zColor(row[j])),
      borderColor: "#a3a8ad",
      borderWidth: 1,
      borderSkipped: false,
      categoryPercentage: 1,
      barPercentage: 1,
    })),
  },
  options: {
    indexAxis: "y",
    responsive: false,
    animation: false,
    layout: { padding: { left: 24, top: 0, right: 0, bottom: 11 } },
    plugins: { legend: { display: false }, tooltip: { enabled: false }, title: { display: false } },
    scales: {
      x: {
        type: "linear",
        position: "top",
        stacked: true,
        min: 0,
        max: 12,
        grid: { display: false },
        border: { display: false },
        afterBuildTicks: (s: any) => {
          s.ticks = COMPARISONS_A.map((_, i) => ({ value: i + 0.73 }));
        },
        afterFit: (s: any) => {
          s.height = 203;
          s.paddingLeft = 0;
          s.paddingRight = 0;
        },
        ticks: {
          autoSkip: false,
          minRotation: 36,
          maxRotation: 36,
          padding: -12,
          color: "#111",
          font: { family: "'Liberation Sans', Arial, sans-serif", size: 27, style: "italic" },
          callback: (_: any, i: number) => COMPARISONS_A[i],
        },
      },
      y: {
        stacked: true,
        position: "right",
        grid: { display: false, drawTicks: false },
        border: { display: false },
        afterFit: (s: any) => {
          s.width = 1150 - 703;
          s.paddingTop = 0;
          s.paddingBottom = 0;
        },
        ticks: {
          autoSkip: false,
          padding: 4,
          labelOffset: 1.5,
          color: "#111",
          font: { family: "'Liberation Sans', Arial, sans-serif", size: 17 },
        },
      },
    },
  },
};

const gradientFill = (low: string, high: string) => (ctx: any) => {
  const a = ctx.chart.chartArea;
  if (!a) return "#ccc";
  const g = ctx.chart.ctx.createLinearGradient(a.left, 0, a.right, 0);
  g.addColorStop(0, low);
  g.addColorStop(0.5, "#ffffff");
  g.addColorStop(1, high);
  return g;
};

const zLegendConfig: any = {
  type: "bar",
  plugins: [legendHeadingPlugin],
  data: {
    labels: ["z"],
    datasets: [{ data: [[-1.5, 1.5]], backgroundColor: gradientFill("#3a6ea5", "#d62f27"), categoryPercentage: 1, barPercentage: 1 }],
  },
  options: {
    indexAxis: "y",
    responsive: false,
    animation: false,
    layout: { padding: { left: 44, right: 67, top: 20 } },
    plugins: {
      legend: { display: false },
      tooltip: { enabled: false },
      title: { display: false },
      legendHeading: { text: Z_LEGEND_TITLE, font: "13.5px 'Liberation Sans', Arial, sans-serif", y: 9.5 },
    },
    scales: {
      y: { display: false },
      x: {
        type: "linear",
        min: -1.5,
        max: 1.5,
        grid: { drawOnChartArea: false, drawTicks: true, tickLength: 8, color: "#444" },
        border: { display: false },
        afterFit: (s: any) => {
          s.height = 27.5;
          s.paddingLeft = 0;
          s.paddingRight = 0;
        },
        ticks: {
          stepSize: 0.5,
          autoSkip: false,
          maxRotation: 0,
          padding: 1,
          color: "#111",
          font: { family: "'Liberation Sans', Arial, sans-serif", size: 13.5 },
          callback: (value: any) => String(value),
        },
      },
    },
  },
};

const foldLegendConfig: any = {
  type: "bar",
  plugins: [legendHeadingPlugin],
  data: {
    labels: ["fold"],
    datasets: [{ data: [[-1, 1]], backgroundColor: gradientFill("#38699c", "#c8302a"), categoryPercentage: 1, barPercentage: 1 }],
  },
  options: {
    indexAxis: "y",
    responsive: false,
    animation: false,
    layout: { padding: { left: 21, right: 17, top: 35.7 } },
    plugins: {
      legend: { display: false },
      tooltip: { enabled: false },
      title: { display: false },
      legendHeading: { text: FOLD_LEGEND_TITLE, font: "24px 'Open Sans', sans-serif", y: 14 },
    },
    scales: {
      y: { display: false },
      x: {
        type: "linear",
        min: -1,
        max: 1,
        grid: { display: false },
        border: { display: false },
        afterFit: (s: any) => {
          s.height = 31.7;
          s.paddingLeft = 0;
          s.paddingRight = 0;
        },
        ticks: {
          stepSize: 1,
          autoSkip: false,
          maxRotation: 0,
          padding: 0,
          color: "#111",
          font: { family: "'Liberation Sans', Arial, sans-serif", size: 17.5 },
          callback: (_: any, i: number) => FOLD_LEGEND_LABELS[i],
        },
      },
    },
  },
};

function ChartCanvas({ left, top, width, height, config }: { left: number; top: number; width: number; height: number; config: any }) {
  const ref = useRef<HTMLCanvasElement | null>(null);
  useEffect(() => {
    const chart = new Chart(ref.current as HTMLCanvasElement, config);
    return () => chart.destroy();
  }, [config]);
  return <canvas ref={ref} width={width} height={height} style={{ position: "absolute", left, top, width, height }} />;
}

const textStyle = (left: number, top: number, size: number, bold = false): React.CSSProperties => ({
  position: "absolute",
  left,
  top,
  fontFamily: "'Liberation Sans', Arial, sans-serif",
  fontSize: size,
  lineHeight: 1,
  fontWeight: bold ? 700 : 400,
  color: "#111",
  whiteSpace: "nowrap",
});

const columnConfigs = COLUMNS.map((c, i) => columnConfig(c, i));

export default function App() {
  return (
    <div style={{ position: "absolute", left: 0, top: 0, width: 1700, height: 2481, background: "#fff", overflow: "hidden" }}>
      <div style={textStyle(0, -7, 38, true)}>a</div>
      <div style={textStyle(0, 1135, 38, true)}>b</div>
      <div style={textStyle(429, -1, 32.5)}>KEGG pathway</div>
      <ChartCanvas left={0} top={0} width={1150} height={1100} config={heatmapConfig} />
      <ChartCanvas left={820} top={122} width={250} height={68} config={zLegendConfig} />
      {columnConfigs.map((cfg, i) => (
        <ChartCanvas key={i} left={COLUMNS[i].left - COL_LEFT_PAD} top={COL_CANVAS_TOP} width={COL_CANVAS_W} height={2481 - COL_CANVAS_TOP} config={cfg} />
      ))}
      <div style={{ position: "absolute", left: 799, top: 1275, width: 250, height: 3.5, background: "#000" }} />
      <ChartCanvas left={0} top={2340} width={160} height={85} config={foldLegendConfig} />
    </div>
  );
}
